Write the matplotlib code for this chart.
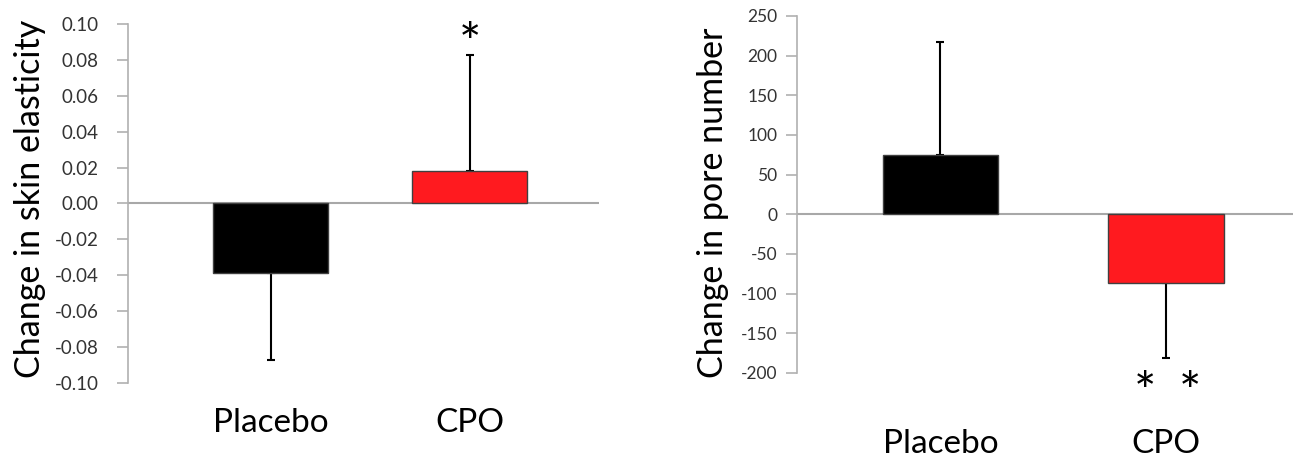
import numpy as np
import matplotlib.pyplot as plt

plt.rcParams['font.family'] = ['Lato', 'DejaVu Sans']

groups = ['Placebo', 'CPO']
bar_colors = ['#000000', '#FF1A1F']

elasticity = [-0.039, 0.018]
elasticity_err = [0.048, 0.065]

pores = [75, -86]
pores_err = [142, 95]

elast_ticks = [-0.10, -0.08, -0.06, -0.04, -0.02, 0.00, 0.02, 0.04, 0.06, 0.08, 0.10]
pore_ticks = [-200, -150, -100, -50, 0, 50, 100, 150, 200, 250]


def one_sided(vals, errs):
    # error bar only points away from zero
    vals = np.array(vals)
    errs = np.array(errs)
    lower = np.where(vals < 0, errs, 0)
    upper = np.where(vals >= 0, errs, 0)
    return np.vstack([lower, upper])


def style_axis(ax, ticks, fmt, tick_size, pad):
    for s in ['top', 'right', 'bottom']:
        ax.spines[s].set_visible(False)
    ax.spines['left'].set_color('#B0B0B0')
    ax.spines['left'].set_linewidth(1.2)
    ax.axhline(0, color='#A8A8A8', lw=1.5, zorder=1)
    ax.set_yticks(ticks)
    ax.set_yticklabels([fmt.format(t) for t in ticks])
    ax.tick_params(axis='y', length=8, width=1.2, color='#B0B0B0',
                   labelsize=tick_size, labelcolor='#333333', pad=pad)


fig = plt.figure(figsize=(12.93, 4.58), dpi=100)

# left panel: skin elasticity
ax1 = fig.add_axes([0.099, 0.1638, 0.3643, 0.7838])
x = np.arange(len(groups))
ax1.bar(x, elasticity, width=0.58, color=bar_colors, edgecolor='#404040',
        linewidth=1, zorder=3)
ax1.errorbar(x, elasticity, yerr=one_sided(elasticity, elasticity_err),
             fmt='none', ecolor='black', elinewidth=1.5, capsize=3,
             capthick=1.5, zorder=2)
style_axis(ax1, elast_ticks, '{:.2f}', 13.5, 13)
ax1.set_ylim(-0.10, 0.10)
ax1.set_xlim(-0.716, 1.65)
ax1.set_xticks(x)
ax1.set_xticklabels(groups, fontsize=24)
ax1.tick_params(axis='x', length=0, pad=18)
ax1.set_ylabel('Change in skin elasticity', fontsize=24.5, va='center')
ax1.yaxis.set_label_coords(-0.208, 0.5125)
ax1.text(1, 0.0875, '*', fontsize=38, ha='center', va='center')

# right panel: pore number
ax2 = fig.add_axes([0.6164, 0.1856, 0.3836, 0.7795])
ax2.bar(x, pores, width=0.51, color=bar_colors, edgecolor='#404040',
        linewidth=1, zorder=3)
ax2.errorbar(x, pores, yerr=one_sided(pores, pores_err),
             fmt='none', ecolor='black', elinewidth=1.5, capsize=3,
             capthick=1.5, zorder=2)
style_axis(ax2, pore_ticks, '{:d}', 12.5, 6)
ax2.set_ylim(-200, 250)
ax2.set_xlim(-0.636, 1.563)
ax2.set_xticks(x)
ax2.set_xticklabels(groups, fontsize=24)
ax2.tick_params(axis='x', length=0, pad=40)
ax2.set_ylabel('Change in pore number', fontsize=24.5, va='center')
ax2.yaxis.set_label_coords(-0.169, 0.4776)
for xs in [0.907, 1.106]:
    ax2.text(xs, -228, '*', fontsize=38, ha='center', va='center', clip_on=False)

fig.savefig('out.png', dpi=100)
